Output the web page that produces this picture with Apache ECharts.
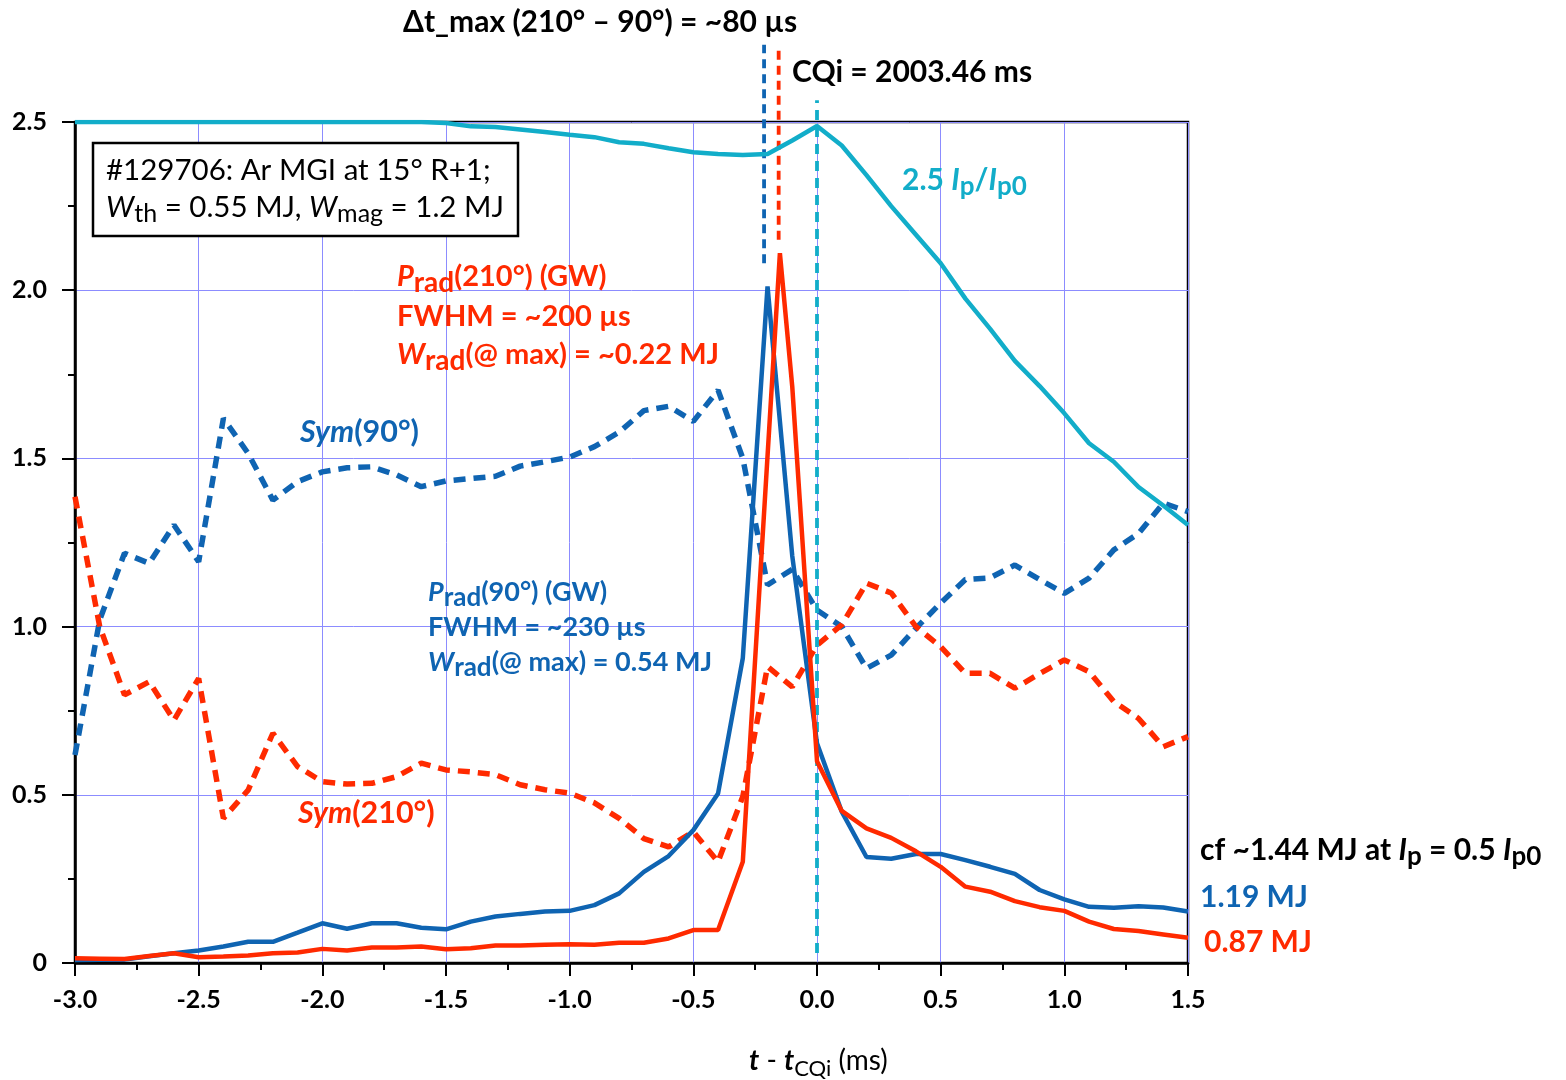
<!DOCTYPE html>
<html><head><meta charset="utf-8">
<script src="https://cdn.jsdelivr.net/npm/echarts@6/dist/echarts.min.js"></script>
<style>html,body{margin:0;padding:0;background:#fff}#chart{width:1566px;height:1080px}</style>
</head><body><div id="chart"></div>
<script>
// ---- data ----
const timeMs = [-3.0,-2.9,-2.8,-2.7,-2.6,-2.5,-2.4,-2.3,-2.2,-2.1,-2.0,-1.9,-1.8,-1.7,-1.6,-1.5,-1.4,-1.3,-1.2,-1.1,-1.0,-0.9,-0.8,-0.7,-0.6,-0.5,-0.4,-0.3,-0.2,-0.1,0.0,0.1,0.2,0.3,0.4,0.5,0.6,0.7,0.8,0.9,1.0,1.1,1.2,1.3,1.4,1.5];
const timeRedMs = [-3.0,-2.9,-2.8,-2.7,-2.6,-2.5,-2.4,-2.3,-2.2,-2.1,-2.0,-1.9,-1.8,-1.7,-1.6,-1.5,-1.4,-1.3,-1.2,-1.1,-1.0,-0.9,-0.8,-0.7,-0.6,-0.5,-0.4,-0.3,-0.15,-0.1,0.0,0.1,0.2,0.3,0.4,0.5,0.6,0.7,0.8,0.9,1.0,1.1,1.2,1.3,1.4,1.5];
const prad90 = [0.009,0.010,0.010,0.020,0.029,0.037,0.049,0.063,0.063,0.090,0.118,0.102,0.118,0.118,0.105,0.100,0.123,0.138,0.146,0.153,0.155,0.172,0.207,0.271,0.318,0.395,0.504,0.906,2.011,1.210,0.653,0.450,0.315,0.310,0.324,0.324,0.306,0.286,0.265,0.217,0.189,0.167,0.164,0.169,0.165,0.153];
const prad210 = [0.014,0.013,0.012,0.021,0.029,0.017,0.019,0.022,0.029,0.031,0.042,0.037,0.046,0.046,0.049,0.041,0.044,0.052,0.052,0.054,0.056,0.054,0.060,0.060,0.073,0.098,0.098,0.301,2.110,1.713,0.600,0.452,0.400,0.372,0.332,0.286,0.227,0.212,0.184,0.166,0.155,0.123,0.101,0.095,0.085,0.075];
const sym90 = [0.618,1.020,1.218,1.188,1.302,1.193,1.619,1.515,1.376,1.431,1.460,1.472,1.475,1.451,1.416,1.433,1.440,1.447,1.477,1.490,1.504,1.535,1.578,1.642,1.655,1.610,1.703,1.500,1.124,1.170,1.049,1.000,0.876,0.915,0.995,1.070,1.140,1.145,1.183,1.140,1.099,1.144,1.228,1.277,1.367,1.342];
const sym210 = [1.386,1.000,0.797,0.836,0.722,0.846,0.430,0.514,0.683,0.584,0.539,0.532,0.534,0.554,0.594,0.574,0.568,0.560,0.530,0.515,0.505,0.476,0.430,0.370,0.345,0.390,0.301,0.495,0.881,0.821,0.945,1.005,1.129,1.100,1.000,0.940,0.861,0.861,0.817,0.860,0.901,0.866,0.777,0.727,0.643,0.673];
const ipNorm = [2.500,2.500,2.500,2.500,2.500,2.500,2.500,2.500,2.500,2.500,2.500,2.500,2.500,2.500,2.500,2.497,2.487,2.485,2.478,2.470,2.462,2.455,2.440,2.435,2.422,2.410,2.405,2.402,2.405,2.445,2.488,2.430,2.342,2.250,2.165,2.080,1.975,1.885,1.790,1.715,1.634,1.545,1.490,1.415,1.360,1.302];
// vertical marker lines: peak 90°, peak 210°, CQ start
const markerTimes = [-0.214, -0.155, 0.0];
const markerFrom  = [2.08, 2.15, 0.03];
const markerTo    = [2.73, 2.73, 2.565];
const xTickLabels = ['-3.0','-2.5','-2.0','-1.5','-1.0','-0.5','0.0','0.5','1.0','1.5'];
const xTickValues = [-3.0,-2.5,-2.0,-1.5,-1.0,-0.5,0.0,0.5,1.0,1.5];
const yTickLabels = ['0','0.5','1.0','1.5','2.0','2.5'];
const yTickValues = [0,0.5,1.0,1.5,2.0,2.5];

// ---- styles ----
const F = 'Lato, "Open Sans", "DejaVu Sans", sans-serif';
const BLUE = '#0f64b2', RED = '#ff2a00', CYAN = '#12adc9', GRIDC = '#8c8cff';

function zip(t, v){ return t.map((x,i)=>[x, v[i]]); }
function tickLabel(vals, labels){ return v => { const i = vals.findIndex(a => Math.abs(a - v) < 1e-9); return i >= 0 ? labels[i] : ''; }; }

function richSet(fill, size, weight, subWeight){
  weight = weight || 'bold';
  return {
    n: {fontSize:size, fontWeight:weight, fontFamily:F, fill:fill, color:fill},
    i: {fontSize:size, fontWeight:weight, fontStyle:'italic', fontFamily:F, fill:fill, color:fill},
    sub: {fontSize:Math.round(size*0.85), fontWeight:subWeight||weight, fontFamily:F, fill:fill, color:fill, padding:[Math.round(size*0.45),0,0,0]},
    subL: {fontSize:Math.round(size*0.97), fontWeight:subWeight||weight, fontFamily:F, fill:fill, color:fill, padding:[Math.round(size*0.42),0,0,0]}
  };
}
function T(x, y, text, fill, size, weight, subWeight){
  return {type:'text', x:x, y:y, z:100, style:{text:text, rich:richSet(fill,size,weight,subWeight), fill:fill,
    fontSize:size, fontWeight:weight||'bold', fontFamily:F, verticalAlign:'middle', align:'left'}};
}

const graphics = [
  T(403, 22, '{n|Δt_max (210° – 90°) = ~80 µs}', '#000', 30),
  T(792, 72, '{n|CQi = 2003.46 ms}', '#000', 30),
  {type:'rect', z:90, shape:{x:93, y:143, width:425, height:93}, style:{fill:'#fff', stroke:'#000', lineWidth:2.5}},
  T(106, 170, '{n|#129706: Ar MGI at 15° R+1;}', '#000', 29.5, 'normal'),
  T(106, 207, '{i|W}{sub|th}{n| = 0.55 MJ, }{i|W}{sub|mag}{n| = 1.2 MJ}', '#000', 29.5, 'normal'),
  T(902, 180, '{n|2.5 }{i|I}{sub|p}{n|/}{i|I}{sub|p0}', CYAN, 30),
  T(397, 277, '{i|P}{subL|rad}{n|(210°) (GW)}', RED, 29),
  T(397, 317, '{n|FWHM = ~200 µs}', RED, 29),
  T(397, 355, '{i|W}{subL|rad}{n|(@ max) = ~0.22 MJ}', RED, 29),
  T(300, 432, '{i|Sym}{n|(90°)}', BLUE, 30.5),
  T(428, 592, '{i|P}{subL|rad}{n|(90°) (GW)}', BLUE, 27),
  T(428, 627, '{n|FWHM = ~230 µs}', BLUE, 27),
  T(428, 662, '{i|W}{subL|rad}{n|(@ max) = 0.54 MJ}', BLUE, 27),
  T(298, 813, '{i|Sym}{n|(210°)}', RED, 30.5),
  T(1200, 850, '{n|cf ~1.44 MJ at }{i|I}{sub|p}{n| = 0.5 }{i|I}{sub|p0}', '#000', 30),
  T(1200, 897, '{n|1.19 MJ}', BLUE, 30),
  T(1204, 942, '{n|0.87 MJ}', RED, 30),
  // x-axis title
  {type:'text', x:749, y:1061, z:100, style:{
    text:'{i|t}{m| - }{i|t}{sub|CQi}{m| (ms)}', verticalAlign:'middle', align:'left',
    fontSize:28, fontFamily:F, fill:'#000',
    rich:{
      i:{fontSize:28, fontStyle:'italic', fontWeight:'bold', fontFamily:F, fill:'#000'},
      m:{fontSize:28, fontWeight:'normal', fontFamily:F, fill:'#000'},
      sub:{fontSize:22, fontWeight:'normal', fontFamily:F, fill:'#000', padding:[16,0,0,0]}
    }}}
];

const axisLbl = {fontSize:25, fontWeight:'bold', fontFamily:F, color:'#000'};
const markerColors = [BLUE, RED, CYAN];
const markerDash = [[9,6],[9,6],[10,7]];

const markerSeries = markerTimes.map((t,i)=>({
  type:'line', xAxisIndex:1, yAxisIndex:1, symbol:'none', silent:true, z:3,
  data:[[t, markerFrom[i]],[t, markerTo[i]]],
  lineStyle:{color:markerColors[i], width:3.8, type:markerDash[i]}
}));

const option = {
  animation:false,
  backgroundColor:'#fff',
  grid:[
    {left:75, right:378, top:122, bottom:117, show:true, borderColor:'#000', borderWidth:2.5, containLabel:false},
    {left:75, right:378, top:21.08, bottom:117, show:false}
  ],
  xAxis:[
    {type:'value', gridIndex:0, min:-3, max:1.5, interval:0.5,
     axisLine:{show:true, onZero:false, lineStyle:{color:'#000', width:2.5}},
     axisTick:{show:true, length:13, lineStyle:{color:'#000', width:2}},
     minorTick:{show:true, splitNumber:2, length:7, lineStyle:{color:'#000', width:2}},
     splitLine:{show:true, lineStyle:{color:GRIDC, width:1}},
     axisLabel:Object.assign({margin:24, formatter:tickLabel(xTickValues, xTickLabels)}, axisLbl)
    },
    {type:'value', gridIndex:1, min:-3, max:1.5, show:false}
  ],
  yAxis:[
    {type:'value', gridIndex:0, min:0, max:2.5, interval:0.5,
     axisLine:{show:true, onZero:false, lineStyle:{color:'#000', width:2.5}},
     axisTick:{show:true, length:13, lineStyle:{color:'#000', width:2}},
     minorTick:{show:true, splitNumber:2, length:7, lineStyle:{color:'#000', width:2}},
     splitLine:{show:true, lineStyle:{color:GRIDC, width:1}},
     axisLabel:Object.assign({margin:28, formatter:tickLabel(yTickValues, yTickLabels)}, axisLbl)
    },
    {type:'value', gridIndex:1, min:0, max:2.8, show:false}
  ],
  series:[
    {name:'Sym(90°)', type:'line', symbol:'none', data:zip(timeMs, sym90), z:2,
     lineStyle:{color:BLUE, width:5.5, type:[12,8]}},
    {name:'Sym(210°)', type:'line', symbol:'none', data:zip(timeMs, sym210), z:2,
     lineStyle:{color:RED, width:5.5, type:[12,8]}},
    {name:'Prad(90°)', type:'line', symbol:'none', data:zip(timeMs, prad90), z:4,
     lineStyle:{color:BLUE, width:4.5}},
    {name:'Prad(210°)', type:'line', symbol:'none', data:zip(timeRedMs, prad210), z:5,
     lineStyle:{color:RED, width:4.5}},
    {name:'2.5 Ip/Ip0', type:'line', symbol:'none', data:zip(timeMs, ipNorm), z:5,
     lineStyle:{color:CYAN, width:4.5}}
  ].concat(markerSeries),
  graphic:graphics
};

const chart = echarts.init(document.getElementById('chart'), null, {renderer:'canvas'});
chart.setOption(option);
</script></body></html>
